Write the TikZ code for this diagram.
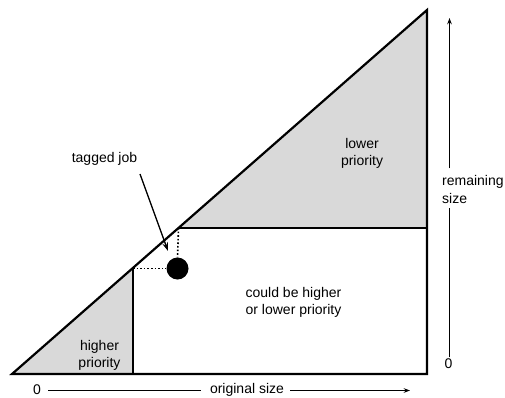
\documentclass[tikz,border=0pt]{standalone}
\usepackage{fontspec}
\setmainfont{Liberation Sans}
\usetikzlibrary{positioning, calc, arrows.meta}
\tikzset{
every node/.style = {font = \fontsize{14}{17.5}\selectfont, inner sep = 1pt},
label/.style = {align = center},
region/.style = {fill = gray!30, draw = none},
border/.style = {line width = 2.2pt, line join = miter},
axis/.style = {-{Stealth[length = 2.2mm, width = 1.6mm]}, line width = 1.1pt},
axisline/.style = {line width = 1.1pt},
pointer/.style = {-{Stealth[length = 3mm, width = 2mm]}, line width = 1.3pt},
guide/.style = {dotted, line width = 1.6pt},
job/.style = {circle, fill = black, minimum size = 22pt, inner sep = 0pt}
}

\begin{document}
\begin{tikzpicture}[x = 1pt, y = {(0pt,-1pt)}]
\useasboundingbox (0,0) rectangle (505,397);

%% The corners of the triangle
\coordinate (O) at (12,374);
\coordinate (T) at (427,10);
\coordinate (B) at (427,374);
\coordinate (U) at (178.5,228);
\coordinate (R) at (427,228);
\coordinate (L) at (133,267.5);
\coordinate (D) at (133,374);

%% The shaded regions
\fill [region] (U) -- (T) -- (R) -- cycle;
\fill [region] (O) -- (L) -- (D) -- cycle;

%% The outline and the split lines
\draw [border] (O) -- (T) -- (B) -- cycle;
\draw [border] (U) -- (R);
\draw [border] (L) -- (D);

%% The tagged job
\node [job] (J) at (177.5,268.5) {};
\draw [guide] (L |- J) -- (J.west);
\draw [guide] (U) -- (J.north);
\node (tag) at (104.5,159) {tagged job};
\path [pointer] (140,174) coordinate (tagtail) edge (168,251);

%% The region labels
\node [label] (lower) at (362,153.5) {lower\\priority};
\node [label] (higher) at (99.5,355.5) {higher\\priority};
\node [label] (mixed) at (293.5,302.5) {could be higher\\or lower priority};

%% The horizontal axis
\node [inner sep = 0pt] (zeroX) at (37,389.5) {0};
\node [inner sep = 0pt] (orig) at (247,389.5) {original size};
\coordinate (endX) at (410,390.5);
\draw [axisline] (48,390.5) -- ([xshift = -9pt] orig.west |- endX);
\draw [axis] ([xshift = 6pt] orig.east |- endX) -- (endX);

%% The vertical axis
\node (zeroY) at (448.5,363.5) {0};
\node [align = left, anchor = west] (rem) at (441,189.5) {remaining\\size};
\coordinate (endY) at (449.5,18);
\draw [axisline] (endY |- zeroY.north) -- ([yshift = -3pt] endY |- rem.south);
\draw [axis] ([yshift = 6pt] endY |- rem.north) -- (endY);

\end{tikzpicture}
\end{document}
